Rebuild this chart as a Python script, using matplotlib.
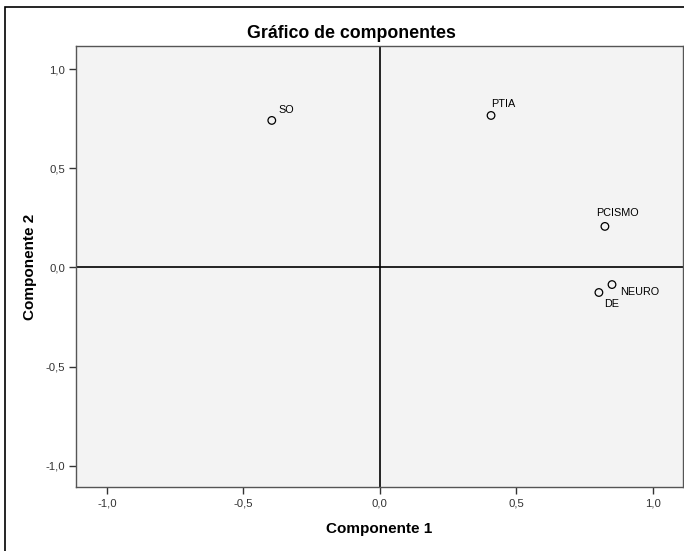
import matplotlib
matplotlib.use("Agg")
import matplotlib.pyplot as plt
from matplotlib.patches import Rectangle

labels = ["SO", "PTIA", "PCISMO", "NEURO", "DE"]
comp1 = [-0.396, 0.407, 0.824, 0.850, 0.802]
comp2 = [0.741, 0.766, 0.207, -0.086, -0.126]
label_offsets = [(5, 4), (0, 5), (-6, 6), (6, -9), (4, -12)]
ticks = [-1.0, -0.5, 0.0, 0.5, 1.0]
tick_labels = ["-1,0", "-0,5", "0,0", "0,5", "1,0"]

plt.rcParams['font.family'] = ['Liberation Sans', 'DejaVu Sans']

fig = plt.figure(figsize=(6.84, 5.51), dpi=100)
ax = fig.add_axes([76/684, 1-487/551, (683-76)/684, (487-46)/551])
ax.set_facecolor('#f3f3f3')

fig.patches.append(Rectangle((5/684, -5/551), 700/684, (551-7+5)/551,
                             transform=fig.transFigure, fill=False,
                             edgecolor='black', linewidth=1.2))

ax.axhline(0, color='black', linewidth=1.2, zorder=1)
ax.axvline(0, color='black', linewidth=1.2, zorder=1)

ax.scatter(comp1, comp2, s=30, facecolors='none', edgecolors='black',
           linewidths=0.9, zorder=3)
for lab, x, y, off in zip(labels, comp1, comp2, label_offsets):
    ax.annotate(lab, (x, y), xytext=off, textcoords='offset points',
                fontsize=7.8, color='black', ha='left', va='bottom')

ax.set_xlim(-1.113, 1.11)
ax.set_ylim(-1.106, 1.116)
ax.set_xticks(ticks)
ax.set_xticklabels(tick_labels)
ax.set_yticks(ticks)
ax.set_yticklabels(tick_labels)
ax.tick_params(direction='out', length=5, width=1, labelsize=8.2,
               labelcolor='#333333', color='#333333', pad=3)
for s in ax.spines.values():
    s.set_color('#555555')
    s.set_linewidth(1.0)

fig.text(351/684, 1-33/551, "Gráfico de componentes", fontsize=12.8,
         fontweight='bold', ha='center', va='center')
ax.set_xlabel("Componente 1", fontsize=11, fontweight='bold', labelpad=10)
ax.set_ylabel("Componente 2", fontsize=11, fontweight='bold', labelpad=6)

fig.savefig("out.png", dpi=100)
